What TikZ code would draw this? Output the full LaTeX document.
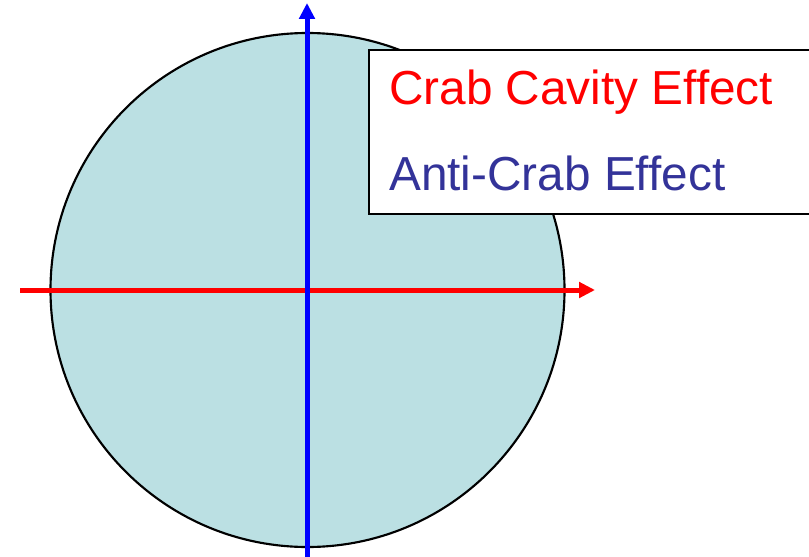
\documentclass[tikz,border=0pt]{standalone}
\usepackage{fontspec}
\setmainfont{Liberation Sans}
\usepackage{xcolor}
\usepackage{tikz}
\usetikzlibrary{arrows.meta,positioning}
\definecolor{beamfill}{HTML}{BBE0E3}
\definecolor{crabred}{HTML}{FF0000}
\definecolor{antiblue}{HTML}{333399}

\begin{document}
\begin{tikzpicture}[x=0.75pt,y=-0.75pt,
  disk/.style={circle,draw,line width=1.6pt,fill=beamfill,minimum size=385.5pt,inner sep=0pt},
  lbox/.style={draw,line width=1.6pt,fill=white,anchor=north west,minimum width=360pt,minimum height=123pt,inner sep=0pt},
  lbl/.style={anchor=base west,font=\fontsize{35.8}{40}\selectfont,inner sep=0pt},
  axis/.style={line width=3.75pt,-{Triangle[length=12pt,width=11.5pt]}}]
\useasboundingbox (0,0) rectangle (809,556);
\node[disk] (beam) at (307.5,290) {};
% axes
\coordinate (xl) at (20,290);
\coordinate (xr) at (595,290);
\coordinate (yb) at (307,560);
\coordinate (yt) at (307,3);
\draw[axis,crabred] (xl) -- (xr);
\draw[axis,blue] (yb) -- (yt);
% legend
\node[lbox] (legend) at (368,49) {};
\node[lbl,text=crabred] (crab) at (389,105) {Crab Cavity Effect};
\node[lbl,text=antiblue] (anti) at (389,190) {Anti-Crab Effect};
\end{tikzpicture}
\end{document}
